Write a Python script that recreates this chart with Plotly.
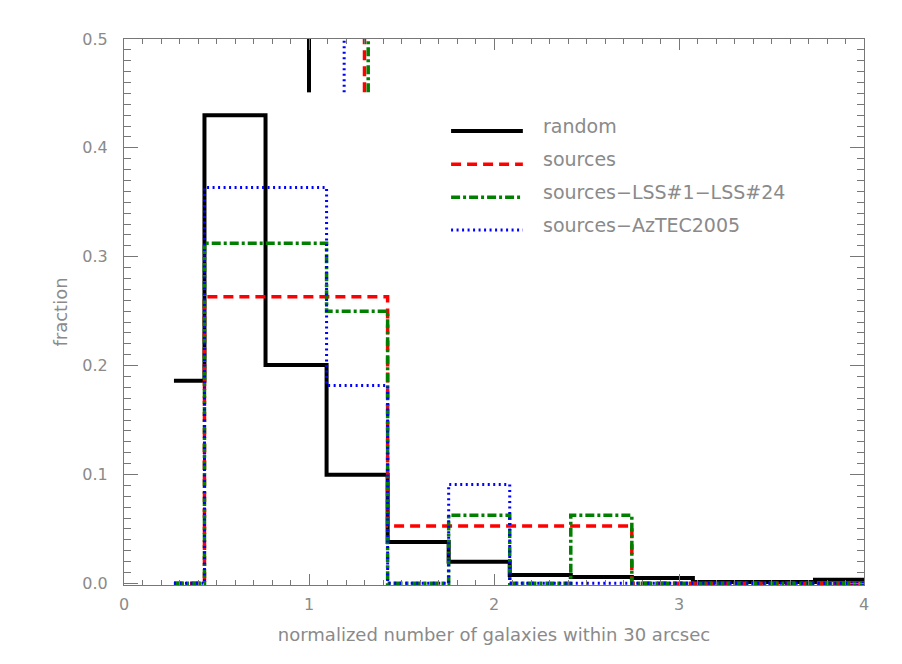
import plotly.graph_objects as go

# bin centres (normalized number of galaxies within 30 arcsec)
bin_centers = [0.27, 0.60, 0.93, 1.26, 1.59, 1.92, 2.25, 2.58, 2.91, 3.24, 3.57, 3.90, 4.23]

frac_random = [0.186, 0.430, 0.2005, 0.0998, 0.038, 0.0199, 0.0076, 0.0058, 0.005, 0.0012, 0.0012, 0.0034, 0.0034]
frac_sources = [0.0, 0.2632, 0.2632, 0.2632, 0.0526, 0.0526, 0.0526, 0.0526, 0.0, 0.0, 0.0, 0.0, 0.0]
frac_lss = [0.0, 0.3125, 0.3125, 0.25, 0.0, 0.0625, 0.0, 0.0625, 0.0, 0.0, 0.0, 0.0, 0.0]
frac_aztec = [0.0, 0.3636, 0.3636, 0.1818, 0.0, 0.0909, 0.0, 0.0, 0.0, 0.0, 0.0, 0.0, 0.0]

# median markers drawn near the top of the frame
median_names = ['random', 'sources', 'sources\u2212LSS#1\u2212LSS#24', 'sources\u2212AzTEC2005']
median_x = [1.0, 1.30, 1.32, 1.19]
marker_y = [0.451, 0.56]

colors = ['#000000', '#ff0000', '#007f00', '#0000ff']
widths = [4, 3.5, 3.5, 3]
dashes = ['solid', '10px,6px', '9px,3px,3px,3px', '2px,3.5px']

axis_col = '#777777'
text_col = '#8a8a8a'
font_fam = 'DejaVu Sans'

fig = go.Figure()

series = [frac_random, frac_sources, frac_lss, frac_aztec]
for name, vals, c, w, d in zip(median_names, series, colors, widths, dashes):
    fig.add_trace(go.Scatter(
        x=bin_centers, y=vals, mode='lines', name=name,
        line=dict(color=c, width=w, dash=d, shape='hvh'),
        showlegend=False
    ))

for name, mx, c, w, d in zip(median_names, median_x, colors, widths, dashes):
    fig.add_trace(go.Scatter(
        x=[mx, mx], y=marker_y, mode='lines',
        line=dict(color=c, width=w, dash=d),
        showlegend=False
    ))

# hand-made legend in the IDL style
leg_y = [0.8315, 0.7705, 0.7100, 0.6500]
for name, ly, c, w, d in zip(median_names, leg_y, colors, widths, dashes):
    fig.add_shape(type='line', xref='paper', yref='paper',
                  x0=0.442, x1=0.539, y0=ly, y1=ly,
                  line=dict(color=c, width=w, dash=d))
    fig.add_annotation(xref='paper', yref='paper', x=0.5635, y=ly + 0.009,
                       text=name, showarrow=False, xanchor='left', yanchor='middle',
                       font=dict(family=font_fam, size=19, color=text_col))

axis_common = dict(
    showline=True, linecolor=axis_col, linewidth=1, mirror='allticks',
    ticks='inside', tickcolor=axis_col, tickwidth=1,
    showgrid=False, zeroline=False,
    tickfont=dict(family=font_fam, size=16, color=text_col),
)

fig.update_xaxes(
    range=[0, 4], tick0=0, dtick=1, ticklen=11,
    minor=dict(dtick=0.1, ticklen=5, ticks='inside', tickcolor=axis_col, showgrid=False),
    title=dict(text='normalized number of galaxies within 30 arcsec',
               font=dict(family=font_fam, size=18, color=text_col), standoff=15),
    ticklabelstandoff=5,
    **axis_common
)
fig.update_yaxes(
    range=[-0.0015, 0.5], tick0=0, dtick=0.1, ticklen=14, tickformat='.1f',
    minor=dict(dtick=0.01, ticklen=7, ticks='inside', tickcolor=axis_col, showgrid=False),
    title=dict(text='fraction', font=dict(family=font_fam, size=18, color=text_col), standoff=10),
    ticklabelstandoff=12,
    **axis_common
)

# the page adds an 8px body margin, so the figure is shrunk and shifted by that much
fig.update_layout(
    width=894, height=656,
    margin=dict(l=116, r=38, t=31, b=79),
    paper_bgcolor='white', plot_bgcolor='white',
    showlegend=False,
)

fig.write_html("out.html")
